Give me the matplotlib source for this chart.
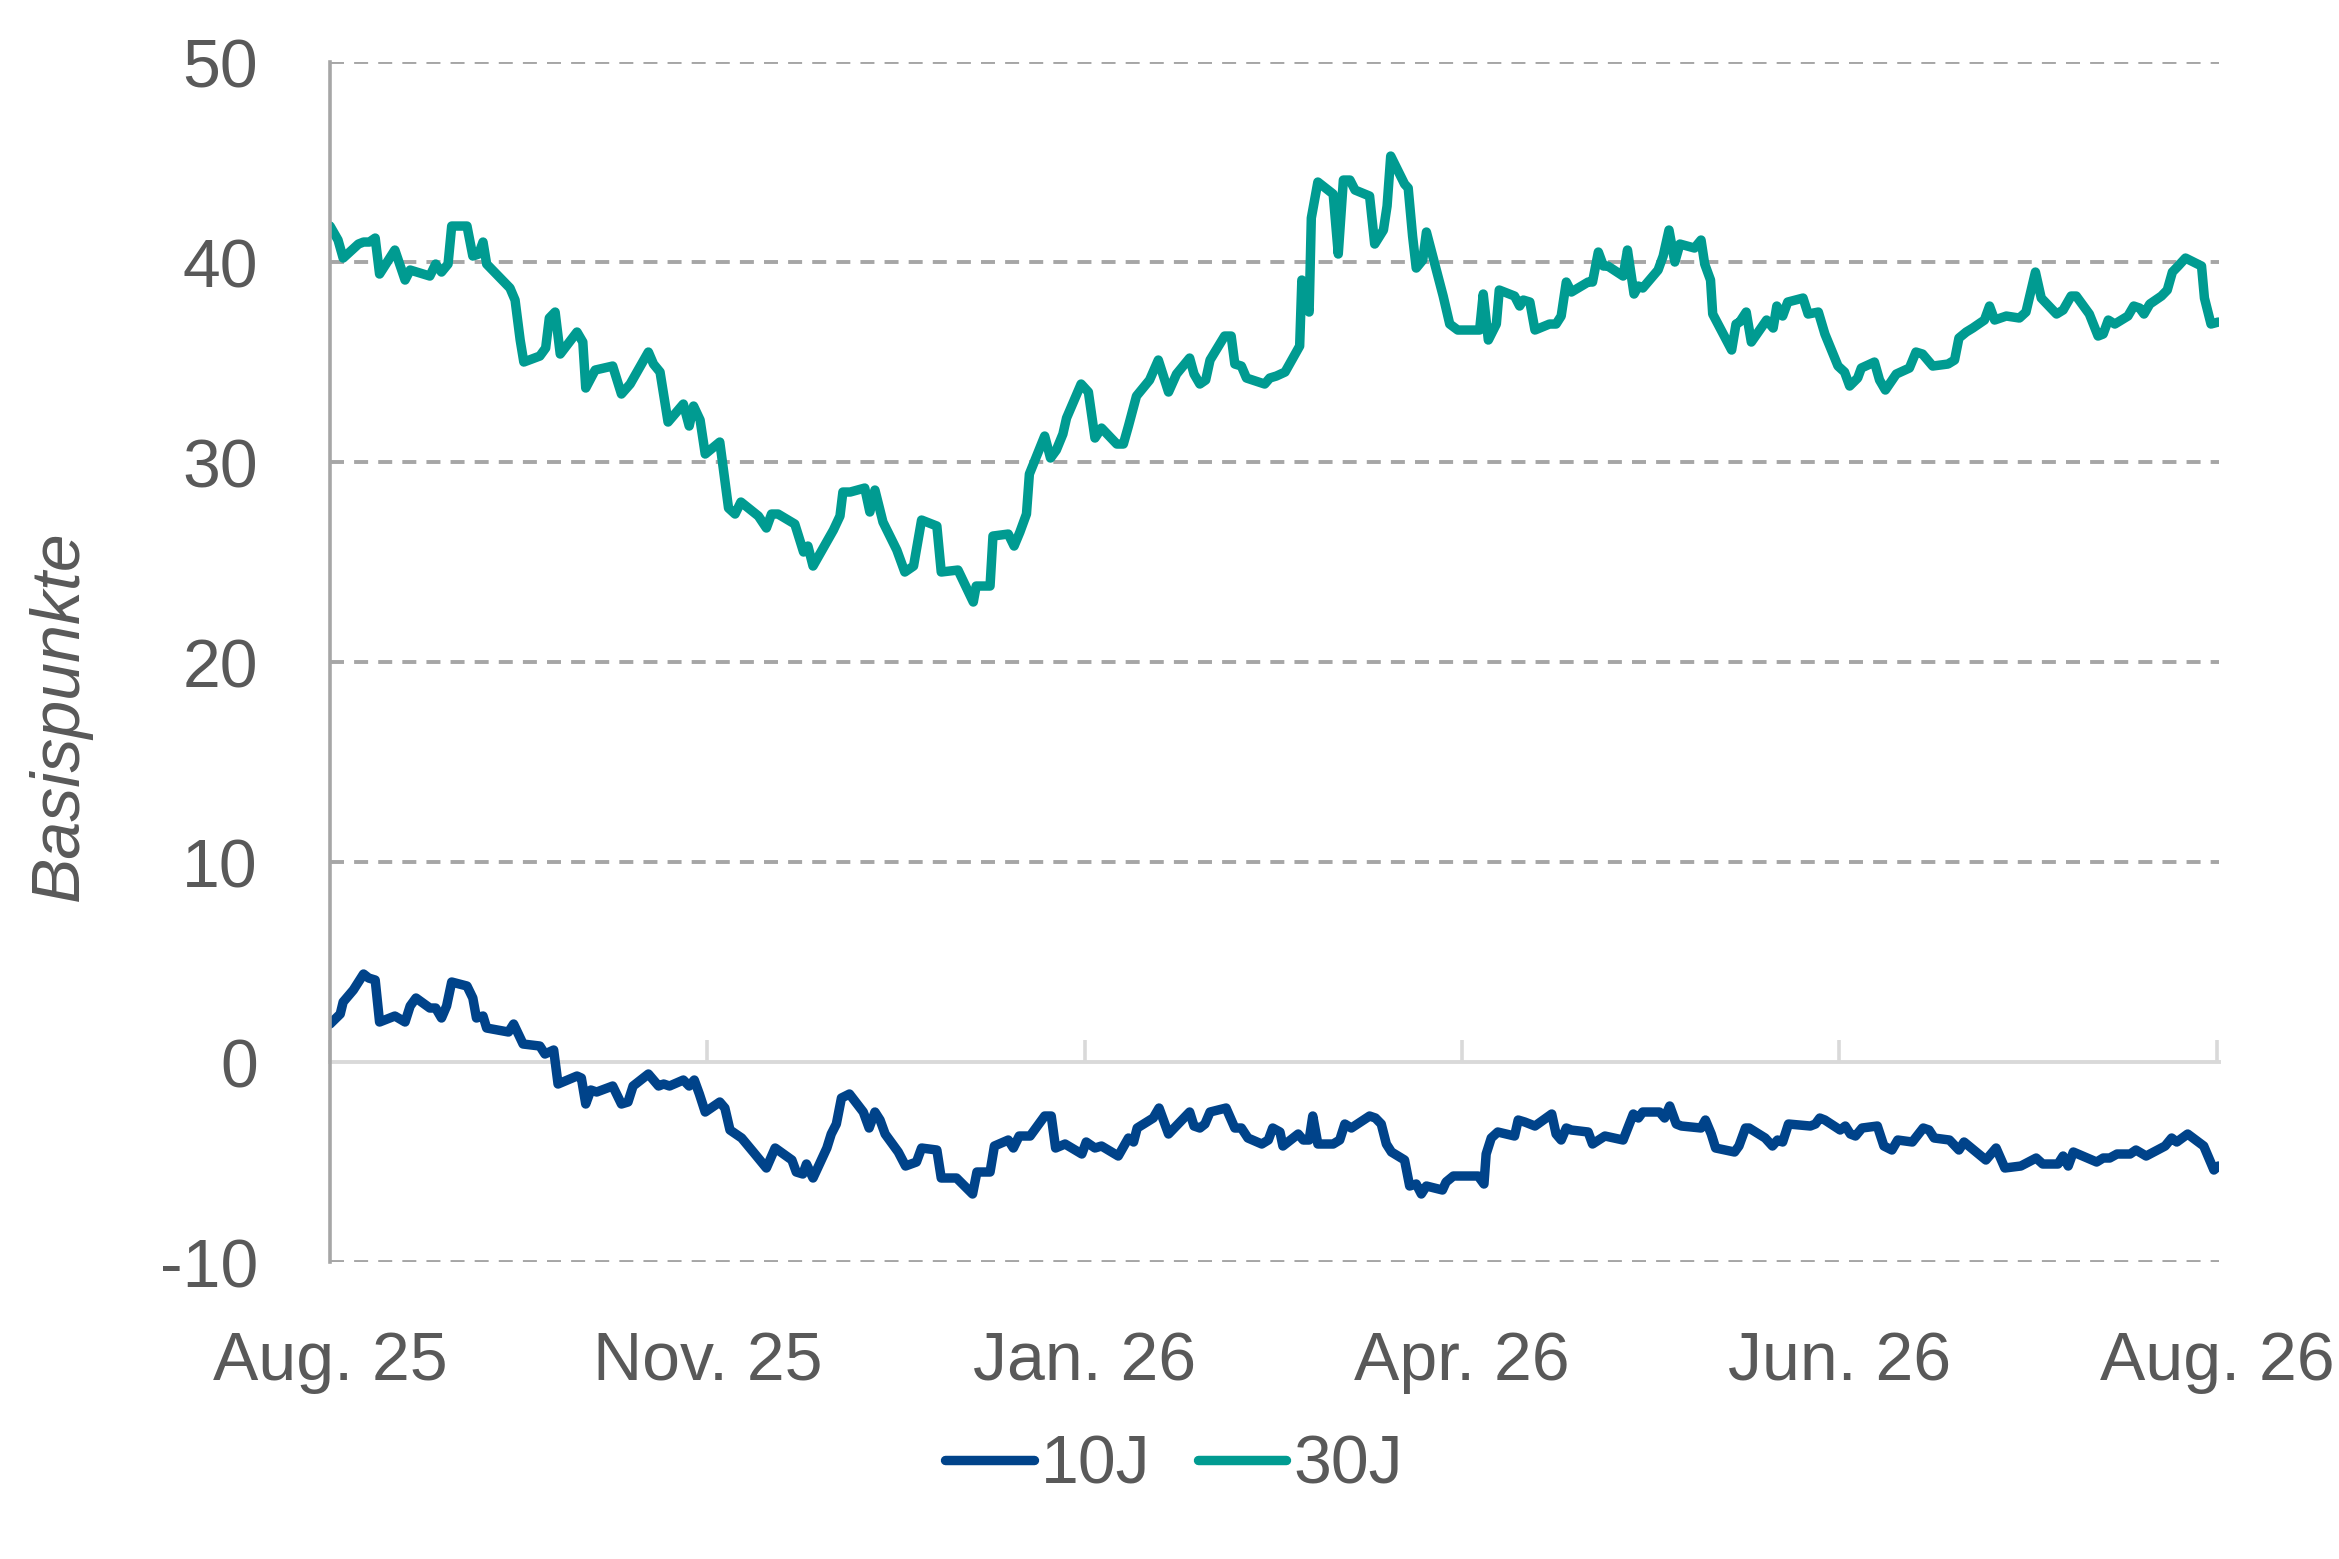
import matplotlib.pyplot as plt
import numpy as np

plt.rcParams["font.family"] = ["Liberation Sans", "DejaVu Sans"]
plt.rcParams["axes.unicode_minus"] = False

# trading day index since the start of the window
days_10 = [
    0.0, 1.4, 1.8, 3.2, 4.6, 5.3, 6.2, 6.8, 8.9, 10.3, 11.0, 11.8, 13.7, 14.5,
    15.3, 16.0, 16.7, 18.8, 19.6, 20.1, 21.0, 21.5, 24.5, 25.2, 26.5, 28.8,
    29.5, 30.7, 31.3, 33.9, 34.5, 35.1, 35.8, 36.6, 38.8, 40.0, 40.9, 41.6,
    43.7, 45.1, 45.8, 46.6, 48.5, 49.3, 50.0, 50.7, 51.5, 53.5, 54.2, 54.9,
    56.5, 58.1, 59.9, 61.1, 63.4, 64.0, 64.9, 65.4, 66.3, 68.2, 68.8, 69.5,
    70.2, 71.3, 73.2, 74.0, 74.8, 75.5, 76.2, 78.0, 79.0, 80.5, 81.2, 83.3,
    83.9, 86.0, 88.2, 88.8, 90.6, 91.2, 93.1, 93.8, 94.6, 96.1, 98.1, 99.0,
    99.6, 100.9, 103.2, 103.8, 105.0, 105.9, 108.2, 109.6, 110.3, 110.8,
    113.0, 113.8, 115.1, 118.0, 118.6, 119.4, 120.1, 120.8, 123.0, 124.2,
    125.1, 126.0, 127.9, 128.8, 129.4, 130.4, 130.8, 132.9, 133.6, 134.4,
    134.9, 135.6, 137.7, 138.6, 139.3, 140.2, 142.7, 143.5, 144.3, 145.0,
    145.7, 147.5, 148.2, 149.1, 149.8, 150.5, 152.7, 153.2, 154.2, 157.6,
    158.4, 158.7, 159.4, 160.3, 162.6, 163.1, 164.0, 165.4, 167.7, 168.3,
    169.0, 169.7, 170.4, 172.7, 173.3, 175.0, 177.5, 178.9, 179.6, 180.2,
    182.5, 183.2, 183.9, 184.8, 185.5, 188.2, 188.8, 189.6, 190.2, 192.8,
    193.4, 194.3, 194.8, 197.0, 198.0, 198.7, 199.4, 200.2, 203.2, 203.9,
    204.5, 205.2, 207.3, 208.0, 208.7, 209.4, 210.3, 212.4, 213.3, 214.4,
    215.2, 217.2, 218.7, 219.5, 220.2, 222.3, 223.6, 224.3, 227.3, 228.7,
    229.9, 232.1, 234.2, 235.1, 237.2, 237.9, 238.6, 239.3, 242.5, 243.4,
    244.3, 245.3, 247.1, 247.9, 249.3, 251.9, 252.8, 253.5, 255.0, 257.2,
    258.6, 259.2,
]
spread_10 = [
    1.9, 2.4, 3.0, 3.6, 4.4, 4.2, 4.1, 2.0, 2.3, 2.0, 2.8, 3.2, 2.7, 2.7,
    2.2, 2.8, 4.0, 3.8, 3.2, 2.2, 2.3, 1.7, 1.5, 1.9, 0.9, 0.8,
    0.4, 0.6, -1.1, -0.7, -0.8, -2.1, -1.4, -1.5, -1.2, -2.1, -2.0, -1.2,
    -0.6, -1.2, -1.1, -1.2, -0.9, -1.2, -0.9, -1.6, -2.5, -2.0, -2.3, -3.4,
    -3.8, -4.5, -5.3, -4.3, -4.9, -5.5, -5.6, -5.1, -5.8, -4.3, -3.6, -3.1,
    -1.8, -1.6, -2.5, -3.3, -2.5, -2.9, -3.6, -4.5, -5.2, -5.0, -4.3, -4.4,
    -5.8, -5.8, -6.6, -5.5, -5.5, -4.2, -3.9, -4.3, -3.7, -3.7, -2.7, -2.7,
    -4.3, -4.1, -4.6, -4.0, -4.3, -4.2, -4.7, -3.8, -4.0, -3.3,
    -2.8, -2.3, -3.6, -2.5, -3.2, -3.3, -3.1, -2.5, -2.3, -3.3,
    -3.3, -3.8, -4.1, -3.9, -3.3, -3.5, -4.2, -3.6, -3.9, -3.9,
    -2.7, -4.1, -4.1, -3.9, -3.1, -3.3, -2.7, -2.8, -3.1, -4.1,
    -4.5, -4.9, -6.2, -6.1, -6.6, -6.2, -6.4, -6.0, -5.7, -5.7,
    -6.1, -4.6, -3.8, -3.5, -3.7, -2.9, -3.0, -3.2, -2.6, -3.6,
    -3.9, -3.3, -3.4, -3.5, -4.1, -3.7, -3.9, -2.6, -2.8, -2.5,
    -2.5, -2.8, -2.2, -3.1, -3.2, -3.3, -2.9, -3.6, -4.3, -4.5,
    -4.2, -3.3, -3.3, -3.8, -4.2, -3.9, -4.0, -3.1, -3.2, -3.1,
    -2.8, -2.9, -3.4, -3.2, -3.6, -3.7, -3.3, -3.2, -4.2, -4.4,
    -3.9, -4.0, -3.3, -3.4, -3.8, -3.9, -4.4, -4.0, -4.9, -4.3,
    -5.3, -5.2, -4.8, -5.1, -5.1, -4.7, -5.2, -4.5, -5.0, -4.8,
    -4.8, -4.6, -4.6, -4.4, -4.7, -4.2, -3.8, -4.0, -3.6, -4.2,
    -5.4, -5.2,
]

days_30 = [
    0.0, 1.1, 1.8, 3.9, 4.6, 5.4, 6.2, 6.8, 8.9, 10.3, 11.0, 13.7, 14.5, 15.3,
    16.2, 16.7, 18.8, 19.6, 20.4, 21.0, 21.5, 24.7, 25.4, 26.1, 26.6, 28.8,
    29.6, 30.1, 30.9, 31.6, 33.9, 34.7, 35.1, 36.4, 38.8, 40.0, 41.2, 43.7,
    44.4, 45.3, 46.4, 48.5, 49.3, 49.9, 50.8, 51.5, 53.5, 54.7, 55.6, 56.4,
    58.8, 59.9, 60.6, 61.5, 63.8, 65.0, 65.6, 66.3, 69.1, 70.0, 70.4, 71.4,
    73.4, 74.1, 74.8, 75.9, 77.8, 78.9, 80.1, 81.2, 83.3, 83.9, 86.2, 88.3,
    88.7, 90.6, 91.0, 93.1, 93.9, 94.7, 95.6, 96.0, 98.1, 98.9, 99.7, 100.6,
    101.1, 103.1, 104.1, 105.0, 105.9, 108.0, 108.9, 109.6, 110.7, 112.5,
    113.7, 115.1, 116.2, 118.0, 118.6, 119.4, 120.2, 120.8, 122.8, 123.7,
    124.2, 125.1, 125.8, 128.3, 129.0, 129.9, 131.1, 133.1, 133.4, 134.4,
    134.7, 135.6, 137.7, 138.4, 139.1, 140.0, 140.7, 142.7, 143.4, 144.6,
    145.1, 145.6, 147.5, 148.0, 148.6, 149.1, 150.0, 150.5, 152.8, 153.7,
    154.8, 157.8, 158.3, 159.0, 160.1, 160.5, 162.6, 163.3, 163.8, 164.7,
    165.4, 167.4, 168.3, 169.0, 169.7, 170.4, 172.7, 173.3, 174.1, 174.8,
    175.4, 177.5, 178.1, 179.0, 179.6, 180.2, 182.3, 183.0, 183.8, 184.6,
    185.3, 187.3, 188.2, 188.7, 189.5, 189.8, 192.4, 193.0, 193.5, 194.4,
    195.1, 197.2, 198.1, 198.6, 199.4, 200.1, 202.2, 202.9, 204.3, 205.2,
    207.0, 207.9, 208.6, 209.7, 210.2, 212.0, 212.7, 213.5, 215.0, 216.8,
    217.7, 218.6, 219.3, 220.0, 222.1, 223.0, 223.6, 224.6, 225.5, 227.1,
    227.8, 228.5, 230.1, 231.9, 232.8, 234.1, 234.9, 237.0, 237.9, 239.0,
    239.7, 241.5, 242.7, 243.4, 244.1, 245.0, 246.8, 247.6, 248.4, 249.0,
    249.8, 251.4, 252.2, 252.9, 253.7, 254.7, 256.9, 257.3, 258.2, 259.2,
]
spread_30 = [
    41.8, 41.1, 40.2, 40.9, 41.0, 41.0, 41.2, 39.4, 40.6, 39.1, 39.6, 39.3, 39.9, 39.5,
    39.9, 41.8, 41.8, 40.3, 40.4, 41.0, 39.9, 38.7, 38.1, 36.1, 35.0, 35.3,
    35.7, 37.2, 37.5, 35.4, 36.5, 36.0, 33.7, 34.6, 34.8, 33.4, 33.9, 35.5,
    34.9, 34.5, 32.0, 32.9, 31.8, 32.8, 32.1, 30.4, 31.0, 27.7, 27.4, 28.0,
    27.3, 26.7, 27.4, 27.4, 26.9, 25.5, 25.8, 24.8, 26.6, 27.3, 28.5, 28.5,
    28.7, 27.5, 28.6, 27.0, 25.6, 24.5, 24.8, 27.1, 26.8, 24.5, 24.6, 23.0,
    23.8, 23.8, 26.3, 26.4, 25.8, 26.5, 27.4, 29.4, 31.3, 30.2, 30.6, 31.4,
    32.2, 33.9, 33.5, 31.2, 31.7, 30.9, 30.9, 31.8, 33.3, 34.1,
    35.1, 33.5, 34.4, 35.2, 34.4, 33.9, 34.1, 35.1, 36.3, 36.3,
    34.9, 34.8, 34.2, 33.9, 34.2, 34.3, 34.5, 35.8, 39.1, 37.5,
    42.2, 44.0, 43.4, 40.4, 44.1, 44.1, 43.6, 43.3, 40.9, 41.6,
    42.8, 45.3, 43.9, 43.7, 41.3, 39.7, 40.1, 41.5, 38.3, 36.9,
    36.6, 36.6, 38.4, 36.1, 36.9, 38.6, 38.3, 37.8, 38.1, 38.0,
    36.6, 36.9, 36.9, 37.3, 39.0, 38.5, 39.0, 39.0, 40.5, 39.8,
    39.8, 39.3, 40.6, 38.4, 38.8, 38.7, 39.6, 40.3, 41.6, 40.0,
    40.9, 40.7, 41.1, 39.9, 39.1, 37.4, 35.6, 36.9, 37.0, 37.5,
    36.0, 37.1, 36.7, 37.8, 37.3, 38.0, 38.2, 37.4, 37.5, 36.4,
    34.8, 34.5, 33.8, 34.2, 34.7, 35.0, 34.1, 33.6, 34.4, 34.7,
    35.5, 35.4, 35.1, 34.8, 34.9, 35.1, 36.2, 36.5, 36.7, 37.1,
    37.8, 37.1, 37.3, 37.2, 37.5, 39.5, 38.2, 37.4, 37.6, 38.3,
    38.3, 37.4, 36.3, 36.4, 37.1, 36.9, 37.3, 37.8, 37.7, 37.4,
    37.9, 38.3, 38.6, 39.5, 39.8, 40.2, 39.8, 38.2, 36.9, 37.0,
]

tick_labels = ["Aug. 25", "Nov. 25", "Jan. 26", "Apr. 26", "Jun. 26", "Aug. 26"]
last_day = 259

color_10 = "#00438A"
color_30 = "#009B91"
text_color = "#595959"
grid_color = "#A6A6A6"
zero_color = "#D9D9D9"
font_size = 49
line_width = 6.8

fig = plt.figure(figsize=(23.39, 15.59), dpi=100)
ax = fig.add_axes([0.1411, 0.1905, 0.8076, 0.7697])

ax.plot(days_10, spread_10, color=color_10, lw=line_width, label="10J",
        solid_joinstyle="round", solid_capstyle="round")
ax.plot(days_30, spread_30, color=color_30, lw=line_width, label="30J",
        solid_joinstyle="round", solid_capstyle="round")

ax.set_xlim(0, 259.3)
ax.set_ylim(-10, 50)
ax.set_yticks(range(-10, 51, 10))
ticks = np.linspace(0, last_day, len(tick_labels))
ax.set_xticks(ticks, tick_labels)
ax.tick_params(axis="x", length=0, pad=49, labelsize=font_size, labelcolor=text_color)
ax.tick_params(axis="y", length=0, pad=52, labelsize=font_size, labelcolor=text_color)

ax.grid(axis="y", color=grid_color, lw=2.8, linestyle=(0, (3.6, 2.6)))
# the zero line is drawn by the category axis below, not as a dashed grid line
for val, line in zip(ax.get_yticks(), ax.get_ygridlines()):
    if val == 0:
        line.set_visible(False)

for side in ["top", "right", "bottom"]:
    ax.spines[side].set_visible(False)
ax.spines["left"].set_color(grid_color)
ax.spines["left"].set_linewidth(2.6)

# horizontal axis crosses at zero, tick marks point up
zero_ax = ax.secondary_xaxis(0, transform=ax.transData)
zero_ax.set_xticks(ticks)
zero_ax.tick_params(direction="in", length=16, width=2.6, color=zero_color,
                    labelbottom=False)
zero_ax.spines["bottom"].set_color(zero_color)
zero_ax.spines["bottom"].set_linewidth(2.8)

fig.text(0.0257, 0.5407, "Basispunkte", rotation=90, style="italic",
         fontsize=font_size, color=text_color, ha="center", va="center")

fig.legend(loc="center", bbox_to_anchor=(0.502, 0.060), ncol=2, frameon=False,
           fontsize=font_size, handlelength=1.3, handletextpad=0.1,
           columnspacing=0.7, labelcolor=text_color)

fig.savefig("out.png", dpi=100)
plt.close(fig)
